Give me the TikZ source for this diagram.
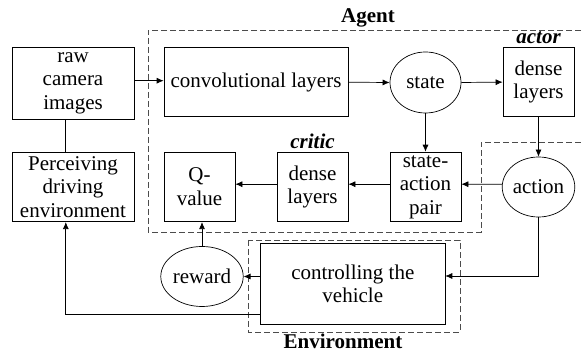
\documentclass[tikz,border=0pt]{standalone}
\usepackage{fontspec}
\setmainfont{Liberation Serif}
\usetikzlibrary{shapes.geometric,arrows.meta}
\begin{document}
\begin{tikzpicture}[x=1pt,y=-1pt,
  font=\fontsize{21}{23.5}\selectfont,
  line width=0.7pt,
  box/.style={draw,rectangle,inner sep=0pt,align=center},
  oval/.style={draw,ellipse,inner sep=0pt,minimum width=71pt,minimum height=60pt},
  arr/.style={-{Latex[length=7pt,width=6pt]}},
  dsh/.style={draw=black!70,dash pattern=on 6pt off 3pt,line width=0.7pt},
  lbl/.style={font=\fontsize{21}{23.5}\selectfont\bfseries}]
\useasboundingbox (0,0) rectangle (584,352);
% regions
\draw[dsh] (590,30) -- (148,30) -- (148,232) -- (481,232) -- (481,142) -- (590,142);
\draw[dsh] (248,240) rectangle (460,332);
\node[lbl] (agentlbl) at (368,18) {Agent};
\node[lbl,inner sep=0pt] (envlbl) at (343,341.5) {Environment};
\node[lbl,font=\fontsize{21}{23.5}\selectfont\bfseries\itshape] (actorlbl) at (538.5,38) {actor};
\node[lbl,font=\fontsize{21}{23.5}\selectfont\bfseries\itshape] (criticlbl) at (312.5,141) {critic};
% nodes
\node[box,minimum width=122.3pt,minimum height=71.3pt] (raw) at (73,83.3) {raw\\camera\\images};
\node[box,minimum width=184pt,minimum height=69pt] (conv) at (256,82.2) {convolutional layers};
\node[oval,minimum height=61pt] (state) at (425.5,82.5) {state};
\node[box,minimum width=71pt,minimum height=69pt] (adense) at (538.5,82.1) {dense\\layers};
\node[box,minimum width=122.3pt,minimum height=69.4pt] (perc) at (73,187) {Perceiving\\driving\\environment};
\node[box,minimum width=71pt,minimum height=69.7pt] (qval) at (199.5,186.9) {Q-\\value};
\node[box,minimum width=71pt,minimum height=69.7pt] (cdense) at (312.5,186.9) {dense\\layers};
\node[box,minimum width=71pt,minimum height=69.7pt] (sap) at (425.5,186.9) {state-\\action\\pair};
\node[oval] (action) at (538.5,187) {action};
\node[oval] (reward) at (202,276.5) {reward};
\node[box,minimum width=184.3pt,minimum height=80.7pt] (ctrl) at (352.8,283.7) {controlling the\\vehicle};
% connectors
\draw[arr] (raw.east |- 0,80.7) -- (conv.west |- 0,80.7);
\draw ([xshift=-7.2pt]raw.south) -- ([xshift=-7.2pt]perc.north);
\draw[arr] (conv.east) -- (state.west);
\draw[arr] (state.east) -- (adense.west);
\draw[arr] (state.south) -- (sap.north);
\draw[arr] (adense.south) -- (action.north);
\draw[arr] ([yshift=2.7pt]action.west) -- ([yshift=2.7pt]sap.east);
\draw[arr] ([yshift=2.7pt]sap.west) -- ([yshift=2.7pt]cdense.east);
\draw[arr] ([yshift=2.7pt]cdense.west) -- ([yshift=2.7pt]qval.east);
\draw[arr] (action.south) |- ([yshift=7.7pt]ctrl.east);
\draw[arr] (reward.east -| ctrl.west) -- (reward.east);
\draw[arr] (reward.north) -- (reward.north |- qval.south);
\draw[arr] ([yshift=-30.3pt]ctrl.west) -| ([xshift=-7.2pt]perc.south);
\end{tikzpicture}
\end{document}
